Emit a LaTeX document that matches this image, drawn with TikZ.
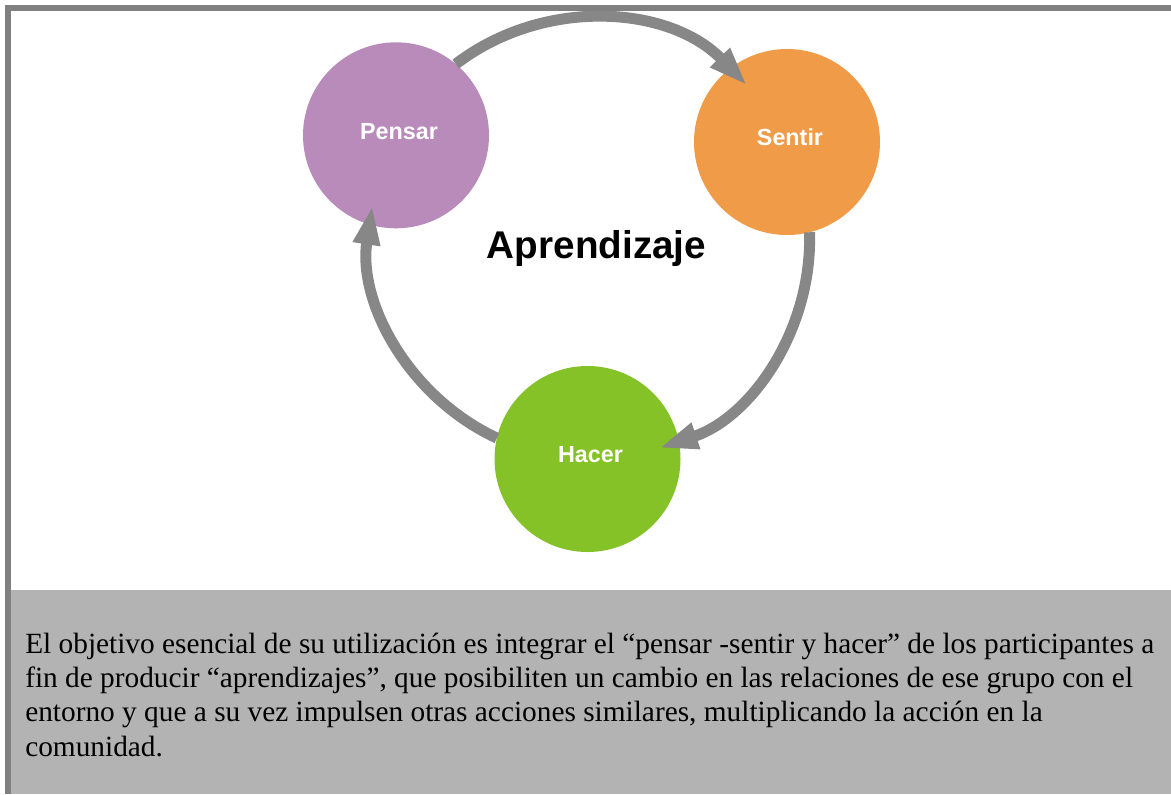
\documentclass[tikz,border=0pt]{standalone}
\usepackage{fontspec}
\setmainfont{Liberation Serif}
\newfontfamily\labelfont{Liberation Sans}
\usetikzlibrary{arrows.meta,%
                shapes}

\definecolor{pensarcol}{HTML}{B88BBA}
\definecolor{sentircol}{HTML}{EF9B48}
\definecolor{hacercol}{HTML}{85C227}
\definecolor{flechagris}{HTML}{878787}
\definecolor{marcogris}{HTML}{808080}
\definecolor{cajagris}{HTML}{B3B3B3}

\tikzstyle{Etapa}=[circle, minimum size=139.5pt, inner sep=0pt, outer sep=0pt,
                   text=white, text height=5.6pt, text depth=0pt,
                   execute at begin node=\hspace*{4.5pt},
                   font=\labelfont\bfseries\fontsize{17.5}{20}\selectfont]
\tikzstyle{Flecha}=[line width=8.25pt, draw=flechagris,
                    -{Triangle[length=29.3pt,width=18.8pt]}]

\begin{document}
\begin{tikzpicture}[x=0.75pt, y=0.75pt]
  \useasboundingbox (0,0) rectangle (1171,-794);

  \fill[cajagris] (11,-590) rectangle (1171,-794);
  \fill[marcogris] (5,-5) rectangle (1171,-11);
  \fill[marcogris] (5,-5) rectangle (11,-794);

  \node[Etapa, fill=pensarcol] (pensar) at (396,-135.3) {Pensar};
  \node[Etapa, fill=sentircol] (sentir) at (787,-142) {Sentir};
  \node[Etapa, fill=hacercol]  (hacer)  at (587.5,-459) {Hacer};

  \node[anchor=base, font=\labelfont\bfseries\fontsize{29}{34}\selectfont]
    (aprendizaje) at (596.5,-258) {Aprendizaje};

  \draw[Flecha] (pensar.50) arc[start angle=127.4, end angle=44.2, radius=220];
  \draw[Flecha] (sentir.284) arc[start angle=1.84, end angle=-71.65, radius=220];
  \draw[Flecha] (hacer.167) arc[start angle=245, end angle=171.35, radius=220];

  \node[anchor=base west, align=left, inner sep=0pt,
        font=\fontsize{22}{25.7}\selectfont] (texto) at (25,-756)
    {El objetivo esencial de su utilización es integrar el “pensar -sentir y hacer” de los participantes a\\
     fin de producir “aprendizajes”, que posibiliten un cambio en las relaciones de ese grupo con el\\
     entorno y que a su vez impulsen otras acciones similares, multiplicando la acción en la\\
     comunidad.};
\end{tikzpicture}
\end{document}
